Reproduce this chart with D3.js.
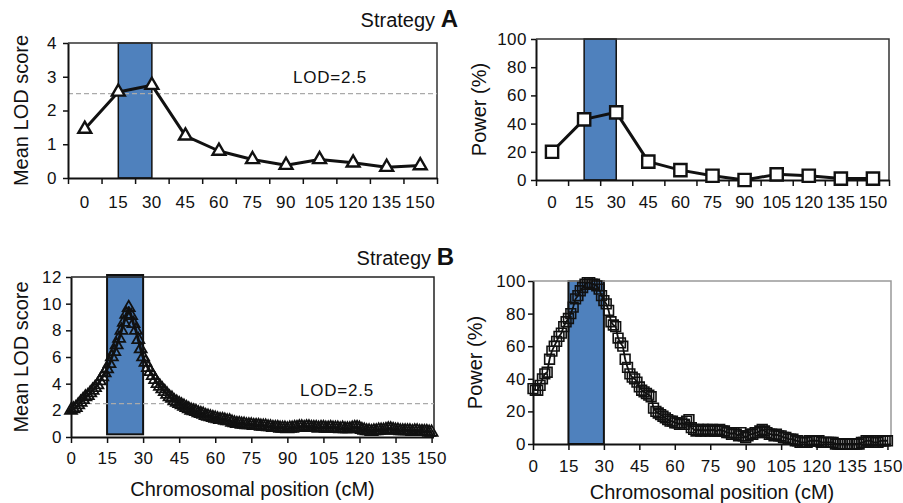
<!DOCTYPE html>
<html>
<head>
<meta charset="utf-8">
<script src="https://cdn.jsdelivr.net/npm/d3@7"></script>
<style>
  html, body { margin: 0; padding: 0; background: #fff; }
  svg { display: block; font-family: "Liberation Sans", Arial, Helvetica, sans-serif; }
</style>
</head>
<body>
<script>
// ---- data ----
// Strategy A: markers every 15 cM
const catsA = [0, 15, 30, 45, 60, 75, 90, 105, 120, 135, 150];
const lodA = [1.45, 2.55, 2.75, 1.25, 0.8, 0.55, 0.38, 0.55, 0.45, 0.32, 0.37];
const powerA = [20, 43, 48, 13, 7, 3, 0, 4, 3, 1, 1];

// Strategy B: markers every 1 cM, position 0..150 = array index
const lodB = [
  2.0, 2.1, 2.2, 2.4, 2.6, 2.8, 3.0, 3.1, 3.3, 3.5, 3.7,
  3.9, 4.2, 4.5, 4.8, 5.1, 5.5, 6.0, 6.4, 6.9, 7.4,
  8.0, 8.6, 9.2, 9.7, 9.1, 8.5, 8.0, 7.3, 6.6, 6.0,
  5.6, 5.2, 4.9, 4.6, 4.3, 4.0, 3.8, 3.6, 3.4, 3.2,
  3.0, 2.9, 2.7, 2.6, 2.5, 2.4, 2.3, 2.2, 2.1, 2.0,
  1.95, 1.9, 1.8, 1.75, 1.7, 1.6, 1.55, 1.5, 1.45, 1.4,
  1.35, 1.3, 1.3, 1.25, 1.2, 1.2, 1.1, 1.05, 1.0, 1.0,
  0.95, 0.95, 0.9, 0.9, 0.9, 0.85, 0.85, 0.85, 0.8, 0.8,
  0.8, 0.75, 0.75, 0.7, 0.7, 0.7, 0.65, 0.65, 0.65, 0.6,
  0.65, 0.65, 0.7, 0.7, 0.75, 0.75, 0.7, 0.75, 0.75, 0.7,
  0.7, 0.7, 0.65, 0.7, 0.7, 0.65, 0.65, 0.7, 0.65, 0.65,
  0.65, 0.6, 0.65, 0.6, 0.6, 0.6, 0.65, 0.7, 0.7, 0.65,
  0.55, 0.5, 0.45, 0.45, 0.4, 0.45, 0.45, 0.5, 0.5, 0.5,
  0.55, 0.6, 0.6, 0.55, 0.5, 0.5, 0.45, 0.45, 0.45, 0.45,
  0.45, 0.4, 0.45, 0.45, 0.4, 0.4, 0.4, 0.4, 0.35, 0.35
];
const powerB = [
  34, 33, 33, 36, 40, 43, 44, 52, 57, 60, 63,
  66, 68, 72, 75, 77, 80, 84, 89, 91, 94,
  96, 98, 99, 99, 98, 98, 97, 95, 91, 88,
  86, 82, 75, 73, 72, 65, 62, 60, 52, 47,
  43, 41, 40, 38, 35, 33, 32, 31, 30, 29,
  22, 20, 19, 18, 17, 16, 15, 14, 14, 13,
  13, 12, 13, 12, 14, 15, 10, 9, 8, 9,
  8, 9, 8, 9, 8, 9, 8, 8, 9, 8,
  8, 7, 7, 6, 7, 6, 5, 7, 5, 4,
  5, 6, 6, 7, 7, 8, 9, 8, 7, 6,
  6, 5, 6, 5, 5, 4, 4, 3, 3, 3,
  2, 2, 1, 1, 1, 1, 2, 2, 2, 2,
  2, 1, 1, 1, 1, 1, 1, 0, 0, 0,
  0, 0, 0, 0, 0, 0, 0, 0, 1, 1,
  2, 2, 2, 1, 1, 1, 2, 2, 2, 2
];

// tick labels
const lodTicksA = [0, 1, 2, 3, 4];
const lodTicksB = [0, 2, 4, 6, 8, 10, 12];
const powerTicks = [0, 20, 40, 60, 80, 100];
const posTicksB = [0, 15, 30, 45, 60, 75, 90, 105, 120, 135, 150];

// QTL interval (cM) and significance threshold
const qtlRegion = [15, 30];
const lodThreshold = 2.5;

// ---- drawing ----
const W = 903, H = 503;
const svg = d3.select("body").append("svg").attr("width", W).attr("height", H);
svg.append("rect").attr("width", W).attr("height", H).attr("fill", "#fff");

const BLUE = "#4f81bd";
const TICK_FONT = 17;
const fmt = d3.format("d");

function styleAxis(g) {
  g.selectAll("path.domain").attr("stroke", "#111").attr("stroke-width", 2);
  g.selectAll(".tick line").attr("stroke", "#111").attr("stroke-width", 1.5);
  g.selectAll(".tick text")
    .attr("fill", "#111")
    .style("font-size", TICK_FONT + "px")
    .style("letter-spacing", "0.5px");
}

function frame(L, R, T, B, color) {
  svg.append("path")
    .attr("d", `M${L},${T}H${R}V${B}`)
    .attr("fill", "none")
    .attr("stroke", color)
    .attr("stroke-width", 1.5);
}

function yTitle(text, x, cy) {
  svg.append("text")
    .attr("transform", `translate(${x},${cy}) rotate(-90)`)
    .attr("text-anchor", "middle")
    .attr("fill", "#111")
    .style("font-size", "20px")
    .text(text);
}

function thresholdLine(y, L, R, lx, ly) {
  svg.append("line")
    .attr("x1", L).attr("x2", R)
    .attr("y1", y(lodThreshold)).attr("y2", y(lodThreshold))
    .attr("stroke", "#aaa").attr("stroke-width", 1.3)
    .attr("stroke-dasharray", "5,3");
  svg.append("text")
    .attr("x", lx).attr("y", ly)
    .attr("fill", "#111")
    .style("font-size", "17px")
    .style("letter-spacing", "0.8px")
    .text("LOD=" + lodThreshold);
}

function strategyTitle(letter, xEnd, y) {
  const t = svg.append("text").attr("x", xEnd).attr("y", y)
    .attr("text-anchor", "end").attr("fill", "#111");
  t.append("tspan").style("font-size", "20px").text("Strategy ");
  t.append("tspan").style("font-size", "24px").style("font-weight", "bold").text(letter);
}

// Panel with category axis (Strategy A)
function categoryPanel(o) {
  const x = d3.scaleBand(catsA, [o.L, o.R]).padding(0);
  const cx = d => x(d) + x.bandwidth() / 2;
  const y = d3.scaleLinear(o.yDomain, [o.B, o.T]);

  // QTL interval
  svg.append("rect")
    .attr("x", cx(qtlRegion[0])).attr("width", cx(qtlRegion[1]) - cx(qtlRegion[0]))
    .attr("y", o.T).attr("height", o.B - o.T)
    .attr("fill", BLUE).attr("stroke", "#111").attr("stroke-width", 1.5);

  frame(o.L, o.R, o.T, o.B, "#333");

  if (o.threshold) thresholdLine(y, o.L, o.R, o.threshold[0], o.threshold[1]);

  const gy = svg.append("g").attr("transform", `translate(${o.L},0)`)
    .call(d3.axisLeft(y).tickValues(o.yTicks).tickFormat(fmt)
      .tickSize(5).tickSizeOuter(0).tickPadding(o.yPad));
  styleAxis(gy);

  // x tick marks sit on category boundaries, labels at centres
  const edge = d3.scaleLinear([0, catsA.length], [o.L, o.R]);
  const gxe = svg.append("g").attr("transform", `translate(0,${o.B})`)
    .call(d3.axisBottom(edge).tickValues(d3.range(catsA.length + 1)).tickFormat("")
      .tickSize(6).tickSizeOuter(0));
  styleAxis(gxe);
  const gx = svg.append("g").attr("transform", `translate(0,${o.B})`)
    .call(d3.axisBottom(x).tickSize(0).tickPadding(o.xPad));
  gx.select("path.domain").remove();
  styleAxis(gx);
  gx.selectAll(".tick text").style("letter-spacing", o.xSpacing);

  const pts = catsA.map((c, i) => [cx(c), y(o.values[i])]);
  svg.append("path").attr("d", d3.line()(pts))
    .attr("fill", "none").attr("stroke", "#111").attr("stroke-width", 3)
    .attr("stroke-linejoin", "round");
  svg.append("g").selectAll("path").data(pts).join("path")
    .attr("transform", d => `translate(${d[0]},${d[1]})`)
    .attr("d", d3.symbol().type(o.symbol).size(o.symbolSize))
    .attr("fill", "#fff").attr("stroke", "#111").attr("stroke-width", 2.4);

  yTitle(o.yLabel, o.titleX, (o.T + o.B) / 2);
}

// Panel with continuous position axis (Strategy B)
function positionPanel(o) {
  const x = d3.scaleLinear([0, o.xMax], [o.L, o.R]);
  const y = d3.scaleLinear(o.yDomain, [o.B, o.T]);

  svg.append("rect")
    .attr("x", x(qtlRegion[0])).attr("width", x(qtlRegion[1]) - x(qtlRegion[0]))
    .attr("y", y(o.rectTop)).attr("height", y(o.rectBottom) - y(o.rectTop))
    .attr("fill", BLUE).attr("stroke", "#111").attr("stroke-width", 2);

  frame(o.L, o.R, o.T, o.B, o.frameColor);

  if (o.threshold) thresholdLine(y, o.L, o.R, o.threshold[0], o.threshold[1]);

  const gy = svg.append("g").attr("transform", `translate(${o.L},0)`)
    .call(d3.axisLeft(y).tickValues(o.yTicks).tickFormat(fmt)
      .tickSize(5).tickSizeOuter(0).tickPadding(o.yPad));
  styleAxis(gy);
  const gx = svg.append("g").attr("transform", `translate(0,${o.B})`)
    .call(d3.axisBottom(x).tickValues(posTicksB).tickFormat(fmt)
      .tickSize(6).tickSizeOuter(0).tickPadding(o.xPad));
  gx.select("path.domain").attr("d", `M${o.L},0.5H${o.R}`);
  styleAxis(gx);

  const pts = o.values.map((v, i) => [x(i), y(v)]);
  svg.append("path").attr("d", d3.line()(pts))
    .attr("fill", "none").attr("stroke", "#111").attr("stroke-width", o.lineWidth)
    .attr("stroke-linejoin", "round");
  svg.append("g").selectAll("path").data(pts).join("path")
    .attr("transform", d => `translate(${d[0]},${d[1]})`)
    .attr("d", d3.symbol().type(o.symbol).size(o.symbolSize))
    .attr("fill", "none").attr("stroke", "#111").attr("stroke-width", o.markerStroke);

  yTitle(o.yLabel, o.titleX, (o.T + o.B) / 2);
  svg.append("text")
    .attr("x", (o.L + o.R) / 2).attr("y", o.xTitleY)
    .attr("text-anchor", "middle").attr("fill", "#111")
    .style("font-size", "20px")
    .text("Chromosomal position (cM)");
}

// Strategy A
strategyTitle("A", 458, 27);
categoryPanel({
  L: 68, R: 437, T: 43, B: 178, yDomain: [0, 4], yTicks: lodTicksA,
  values: lodA, symbol: d3.symbolTriangle, symbolSize: 72,
  yLabel: "Mean LOD score", titleX: 28, yPad: 6, xPad: 18, xSpacing: "0.5px",
  threshold: [293, 83]
});
categoryPanel({
  L: 536, R: 889, T: 39, B: 180, yDomain: [0, 100], yTicks: powerTicks,
  values: powerA, symbol: d3.symbolSquare, symbolSize: 150,
  yLabel: "Power (%)", titleX: 486, yPad: 4, xPad: 16, xSpacing: "0px"
});

// Strategy B
strategyTitle("B", 454, 265);
positionPanel({
  L: 71, R: 434, T: 277, B: 437, xMax: 151, yDomain: [0, 12], yTicks: lodTicksB,
  values: lodB, symbol: d3.symbolTriangle, symbolSize: 62, lineWidth: 3, markerStroke: 1.8,
  rectTop: 12.15, rectBottom: 0.2, frameColor: "#222",
  yLabel: "Mean LOD score", titleX: 28, yPad: 4, xPad: 9, xTitleY: 496,
  threshold: [300, 396]
});
positionPanel({
  L: 533, R: 891, T: 281, B: 444, xMax: 151.5, yDomain: [0, 100], yTicks: powerTicks,
  values: powerB, symbol: d3.symbolSquare, symbolSize: 95, lineWidth: 1.8, markerStroke: 1.6,
  rectTop: 100, rectBottom: 0, frameColor: "#999",
  yLabel: "Power (%)", titleX: 482, yPad: 2, xPad: 10, xTitleY: 499
});
</script>
</body>
</html>
